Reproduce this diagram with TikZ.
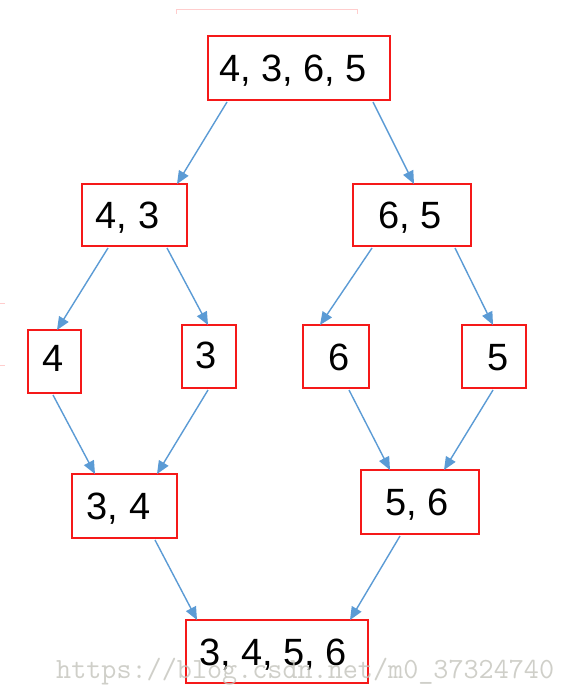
\documentclass[tikz,border=0pt]{standalone}
\usepackage{fontspec}
\setmainfont{Liberation Sans}
\usetikzlibrary{arrows.meta}
\definecolor{boxred}{RGB}{245,25,25}
\definecolor{arrblue}{RGB}{91,155,213}
\definecolor{pinkline}{RGB}{255,205,205}
\definecolor{wmgray}{RGB}{196,196,188}
\tikzset{
  numbox/.style={draw=boxred, line width=1.5pt, rectangle, inner sep=0pt, outer sep=0pt},
  numtxt/.style={font=\fontsize{38}{40}\selectfont, text height=27pt, text depth=0pt, inner sep=0pt},
  arr/.style={draw=arrblue, line width=1.4pt, -{Triangle[length=13pt,width=11pt]}},
}
\begin{document}
\begin{tikzpicture}[x=1pt,y=-1pt]
\useasboundingbox (0,0) rectangle (561,690);
\fill[white] (0,0) rectangle (561,690);
% faint marks
\draw[pinkline, line width=1pt] (176,14) -- (176,10) -- (357,10) -- (357,14);
\draw[pinkline, line width=1pt] (0,303) -- (5,303);
\draw[pinkline, line width=1pt] (0,365) -- (5,365);
% boxes
\node[numbox, minimum width=182pt, minimum height=64pt, label={[numtxt, xshift=-6pt]center:{4, 3, 6, 5}}] (t) at (299,68) {};
\node[numbox, minimum width=105pt, minimum height=62pt, label={[numtxt, xshift=-7pt]center:{4, 3}}] (a) at (134.5,215) {};
\node[numbox, minimum width=118pt, minimum height=62pt, label={[numtxt, xshift=-2pt]center:{6, 5}}] (b) at (412,215) {};
\node[numbox, minimum width=53pt, minimum height=63pt, label={[numtxt, xshift=-1pt, yshift=4pt]center:{4}}] (c) at (54.5,361.5) {};
\node[numbox, minimum width=54pt, minimum height=63pt, label={[numtxt, xshift=-3pt, yshift=2pt]center:{3}}] (d) at (209,356.5) {};
\node[numbox, minimum width=66pt, minimum height=63pt, label={[numtxt, xshift=3pt]center:{6}}] (e) at (336,356.5) {};
\node[numbox, minimum width=64pt, minimum height=63pt, label={[numtxt, xshift=4pt]center:{5}}] (f) at (494,356.5) {};
\node[numbox, minimum width=105pt, minimum height=64pt, label={[numtxt, xshift=-6pt]center:{3, 4}}] (g) at (124.5,506) {};
\node[numbox, minimum width=118pt, minimum height=64pt, label={[numtxt, xshift=-3pt]center:{5, 6}}] (h) at (420,502) {};
\node[numbox, minimum width=182pt, minimum height=63pt, label={[numtxt, xshift=-4pt]center:{3, 4, 5, 6}}] (z) at (277,651.5) {};
% arrows
\draw[arr] ([xshift=-72pt,yshift=-2pt]t.south) -- ([xshift=42.5pt]a.north);
\draw[arr] ([xshift=74pt,yshift=-2pt]t.south) -- ([xshift=2pt]b.north);
\draw[arr] ([xshift=-26.5pt,yshift=-2pt]a.south) -- ([xshift=2.5pt]c.north);
\draw[arr] ([xshift=32.5pt,yshift=-2pt]a.south) -- ([xshift=-1pt]d.north);
\draw[arr] ([xshift=-40pt,yshift=-2pt]b.south) -- ([xshift=-16pt]e.north);
\draw[arr] ([xshift=43pt,yshift=-2pt]b.south) -- ([xshift=-1pt]f.north);
\draw[arr] ([xshift=-1.5pt,yshift=-2pt]c.south) -- ([xshift=-29.5pt]g.north);
\draw[arr] ([xshift=-1pt,yshift=-2pt]d.south) -- ([xshift=32.5pt]g.north);
\draw[arr] ([xshift=13pt,yshift=-2pt]e.south) -- ([xshift=-30pt]h.north);
\draw[arr] ([xshift=-1pt,yshift=-2pt]f.south) -- ([xshift=24pt]h.north);
\draw[arr] ([xshift=30.5pt,yshift=-2pt]g.south) -- ([xshift=-80pt]z.north);
\draw[arr] ([xshift=-20pt,yshift=-2pt]h.south) -- ([xshift=73pt]z.north);
% watermark
\node[anchor=base west, inner sep=0pt, text=wmgray, opacity=0.8, font=\ttfamily\fontsize{29.3}{31}\selectfont] (wm) at (56,678) {https://blog.csdn.net/m0\_37324740};
\end{tikzpicture}
\end{document}
